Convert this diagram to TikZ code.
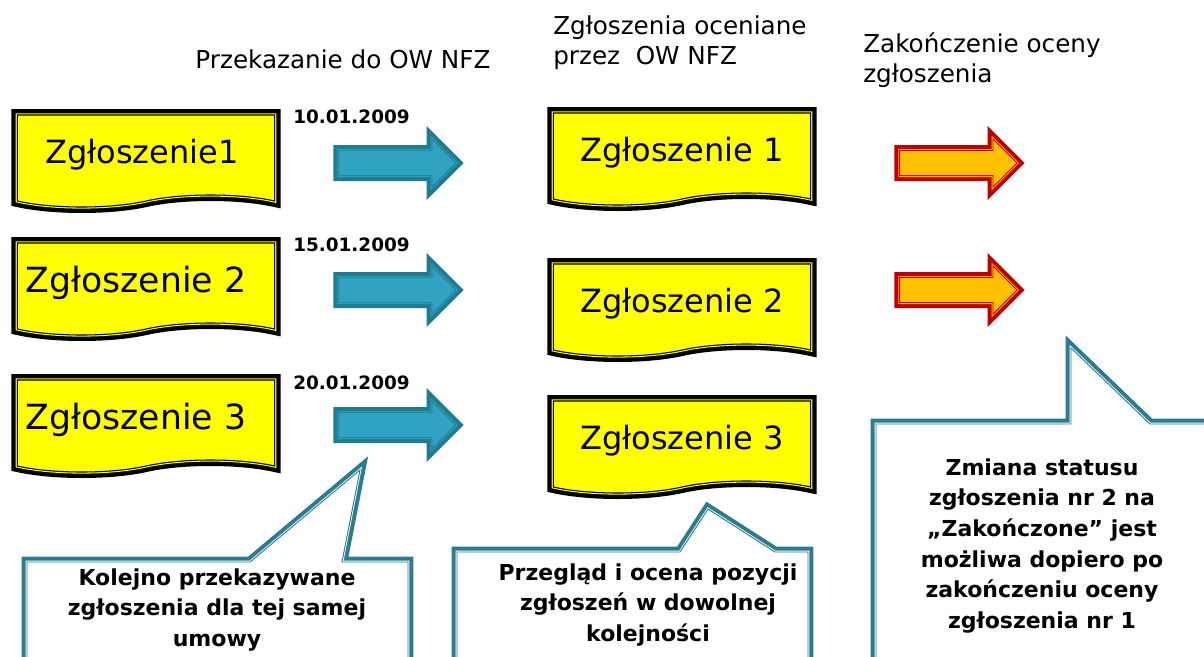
\documentclass[tikz,border=0pt]{standalone}
\usepackage{fontspec}
\setmainfont{DejaVu Sans}
\usetikzlibrary{shapes.symbols,shapes.arrows}
\definecolor{zolty}{HTML}{FFFF00}
\definecolor{niebieski}{HTML}{2FA3C1}
\definecolor{granat}{HTML}{1E7B90}
\definecolor{czerwony}{HTML}{C00000}
\definecolor{pomar}{HTML}{FFC000}
\definecolor{morski}{HTML}{2B7C8E}
\tikzset{
  dokument/.style={tape, tape bend top=none, tape bend bottom=in and out,
    tape bend height=9pt, minimum width=193pt, minimum height=69pt,
    inner sep=0pt, preaction={draw=black, line width=9pt}, fill=zolty,
    draw=zolty, line width=2.4pt, postaction={draw=black, line width=0.8pt},
    font=\fontsize{24}{28}\selectfont},
  duzy/.style={font=\fontsize{26}{30}\selectfont},
  strzalka/.style={single arrow, single arrow head extend=8.5pt,
    single arrow tip angle=90, single arrow head indent=0pt,
    minimum height=88pt, inner xsep=0pt, inner ysep=8.5pt, line join=miter},
  niebieska/.style={strzalka, preaction={draw=granat, line width=8pt},
    fill=niebieski, draw=niebieski, line width=2pt, postaction={draw=granat, line width=0.6pt}},
  czerwona/.style={strzalka, preaction={draw=czerwony, line width=8pt},
    fill=pomar, draw=pomar, line width=2pt, postaction={draw=czerwony, line width=0.7pt}},
  dymek/.style={line join=miter, preaction={draw=morski, line width=8pt},
    fill=white, draw=white, line width=2pt, postaction={draw=morski, line width=0.7pt}},
  naglowek/.style={inner sep=0pt, font=\fontsize{18.5}{22.5}\selectfont},
  data/.style={inner sep=0pt, font=\bfseries\fontsize{13.8}{16}\selectfont},
  opis/.style={inner sep=0pt, align=center, font=\bfseries\fontsize{16.5}{23}\selectfont}
}
\begin{document}
\begin{tikzpicture}[x=0.75pt,y=-0.75pt]
    \useasboundingbox (0,0) rectangle (1204,657);
    \clip (0,0) rectangle (1204,657);
    %naglowki
    \node[naglowek, anchor=base] (nagl1) at (343,68) {Przekazanie do OW NFZ};
    \node[naglowek, anchor=north west, align=left] (nagl2) at (553,15) {Zgłoszenia oceniane\\przez~ OW NFZ};
    \node[naglowek, anchor=north west, align=left] (nagl3) at (863,32) {Zakończenie oceny\\zgłoszenia};
    %zgloszenia przekazane
    \node[dokument] (zgl1) at (146,155) {Zgłoszenie1\hspace*{6pt}};
    \node[dokument, duzy] (zgl2) at (146,283) {Zgłoszenie 2\hspace*{15pt}};
    \node[dokument, duzy] (zgl3) at (146,420) {Zgłoszenie 3\hspace*{15pt}};
    \node[data, anchor=base west] (data1) at (293,123) {10.01.2009};
    \node[data, anchor=base west] (data2) at (293,251) {15.01.2009};
    \node[data, anchor=base west] (data3) at (293,389) {20.01.2009};
    %strzalki
    \node[niebieska] (str1) at (391,163) {};
    \node[niebieska] (str2) at (391,290) {};
    \node[niebieska] (str3) at (391,425) {};
    %zgloszenia oceniane
    \node[dokument] (oc1) at (682,153) {Zgłoszenie 1};
    \node[dokument] (oc2) at (682,304) {Zgłoszenie 2};
    \node[dokument] (oc3) at (682,441) {Zgłoszenie 3};
    %zakonczenie
    \node[czerwona] (kon1) at (952,163) {};
    \node[czerwona] (kon2) at (952,290) {};
    %dymki
    \path[dymek] (27,562) -- (250,562) -- (360,470) -- (342,562) -- (408,562)
        -- (408,700) -- (27,700) -- cycle;
    \node[opis] (opis1) at (217,610) {Kolejno przekazywane\\zgłoszenia dla tej samej\\umowy};
    \path[dymek] (457,552) -- (680,552) -- (708,509) -- (775,552) -- (808,552)
        -- (808,700) -- (457,700) -- cycle;
    \node[opis] (opis2) at (648,605) {Przegląd i ocena pozycji\\zgłoszeń w dowolnej\\kolejności};
    \path[dymek] (876,424) -- (1071,424) -- (1071,348) -- (1150,424) -- (1250,424)
        -- (1250,700) -- (876,700) -- cycle;
    \node[opis] (opis3) at (1042,546) {Zmiana statusu\\zgłoszenia nr 2 na\\„Zakończone” jest\\możliwa dopiero po\\zakończeniu oceny\\zgłoszenia nr 1};
\end{tikzpicture}
\end{document}
